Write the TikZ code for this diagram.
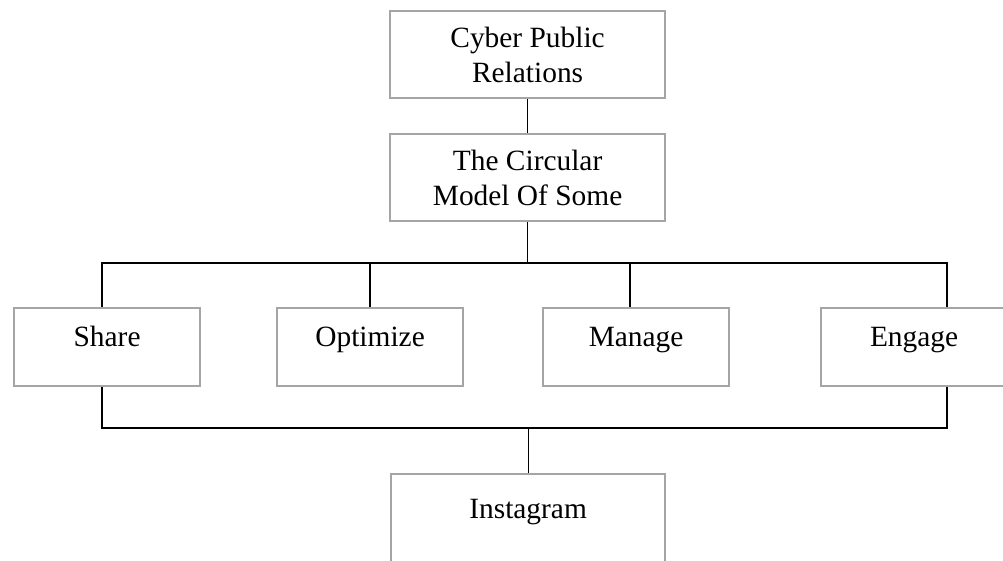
\documentclass[tikz,border=0pt]{standalone}
\usepackage{fontspec}
\setmainfont{Liberation Serif}
\definecolor{boxgray}{RGB}{165,165,165}

\begin{document}
\begin{tikzpicture}[x=0.5pt,y=-0.5pt,
    wire/.style={draw=black,line width=0.55pt},
    bigbox/.style={draw=boxgray,line width=1.1pt,anchor=north west,inner sep=0pt,minimum width=137.5pt,minimum height=43.5pt,align=center,font=\fontsize{14.7}{17.5}\selectfont},
    smallbox/.style={draw=boxgray,line width=1.1pt,anchor=north west,inner sep=0pt,minimum width=93pt,text height=19pt,text depth=20pt,font=\fontsize{14.7}{17.5}\selectfont}]
    \clip (0,0) rectangle (1003,561);
    \node[bigbox] (cpr) at (389,10) {Cyber Public\\Relations};
    \node[bigbox] (model) at (389,133) {The Circular\\Model Of Some};
    \node[smallbox] (share) at (13,307) {Share};
    \node[smallbox] (optimize) at (276,307) {Optimize};
    \node[smallbox] (manage) at (542,307) {Manage};
    \node[smallbox] (engage) at (820,307) {Engage};
    \node[smallbox,minimum width=137pt,text height=22pt,text depth=60pt] (insta) at (390,473) {Instagram};
    \coordinate (busL) at (102,263);\coordinate (busR) at (947,263);
    \coordinate (tapO) at (370,263);\coordinate (tapM) at (630,263);
    \coordinate (baseL) at (102,428);\coordinate (baseR) at (947,428);
    \draw[wire] (cpr) -- (model);
    \draw[wire] (model.south) -- (model.south |- busL);
    \draw[wire] (busL |- share.north) -- (busL) -- (busR) -- (busR |- engage.north);
    \draw[wire] (tapO) -- (tapO |- optimize.north);
    \draw[wire] (tapM) -- (tapM |- manage.north);
    \draw[wire] (busL |- share.south) -- (baseL) -- (baseR) -- (busR |- engage.south);
    \draw[wire] (insta.north |- baseL) -- (insta.north);
  \end{tikzpicture}
\end{document}
